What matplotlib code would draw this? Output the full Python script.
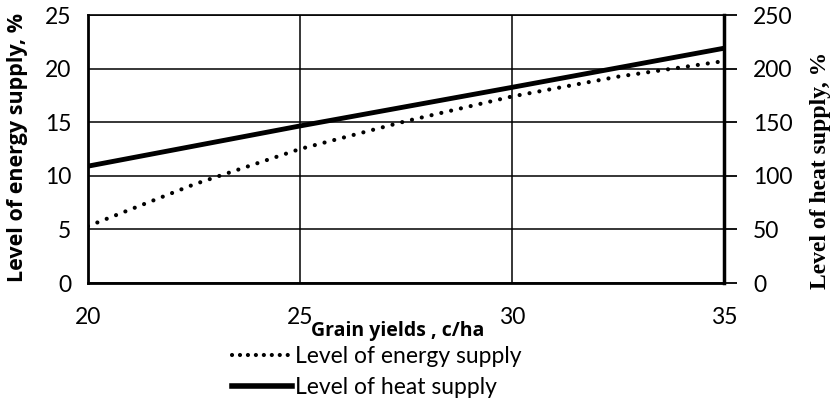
import matplotlib.pyplot as plt
from matplotlib.lines import Line2D

# data
yields = [20, 22.5, 25, 27.5, 30, 32.5, 35]
energy_supply = [5.3, 9.2, 12.5, 15.1, 17.4, 19.25, 20.7]   # left axis, %
heat_x = [20, 25, 30, 35]
heat_supply = [109, 146.5, 182.5, 219]                      # right axis, %

x_ticks = [20, 25, 30, 35]
left_ticks = [0, 5, 10, 15, 20, 25]
right_ticks = [0, 50, 100, 150, 200, 250]

tick_font = "Lato"
dots = (0, (0.01, 2.4))

fig = plt.figure(figsize=(8.3, 4.03), dpi=100)
ax = fig.add_axes([88/830, 1 - 283/403, (724 - 88)/830, (283 - 15)/403])
ax2 = ax.twinx()

ax.plot(yields, energy_supply, color="black", linestyle=dots,
        linewidth=3, dash_capstyle="round", zorder=3)
ax2.plot(heat_x, heat_supply, color="black", linewidth=3.5, solid_capstyle="butt", zorder=3)

ax.set_xlim(20, 35)
ax.set_ylim(0, 25)
ax2.set_ylim(0, 250)
ax.set_xticks(x_ticks)
ax.set_yticks(left_ticks)
ax2.set_yticks(right_ticks)
ax.grid(True, color="black", linewidth=1.1)
ax.set_axisbelow(True)

ax.tick_params(axis="x", length=0, pad=17, labelsize=16.5)
ax.tick_params(axis="y", length=0, pad=12, labelsize=16.5)
ax2.tick_params(axis="y", length=9, width=1.3, pad=12, labelsize=16.5)
for lab in ax.get_xticklabels() + ax.get_yticklabels() + ax2.get_yticklabels():
    lab.set_fontfamily(tick_font)

for s in ["left", "bottom"]:
    ax.spines[s].set_linewidth(2)
ax.spines["top"].set_linewidth(1.2)
ax2.spines["right"].set_linewidth(2.5)
ax2.spines["top"].set_visible(False)
ax2.spines["left"].set_visible(False)
ax2.spines["bottom"].set_visible(False)

fig.text(18/830, 1 - 148/403, "Level of energy supply, %", rotation=90, ha="center",
         va="center", fontsize=15.5, fontweight="bold", family="Open Sans")
fig.text(820/830, 1 - 170/403, "Level of heat supply, %", rotation=90, ha="center",
         va="center", fontsize=17, fontweight="bold", family="Liberation Serif")
fig.text(398/830, 1 - 331/403, "Grain yields , c/ha", ha="center", va="center",
         fontsize=14, fontweight="bold", family="Open Sans")

handles = [
    Line2D([], [], color="black", linestyle=(0, (0.01, 1.9)), linewidth=3, dash_capstyle="round"),
    Line2D([], [], color="black", linewidth=4),
]
fig.legend(handles, ["Level of energy supply", "Level of heat supply"],
           loc="center left", bbox_to_anchor=(232/830, 1 - 372/403), frameon=False,
           prop={"family": tick_font, "size": 16.5}, handlelength=2.6, handletextpad=0.15,
           labelspacing=0.45, borderpad=0, borderaxespad=0)

fig.savefig("out.png", dpi=100)
